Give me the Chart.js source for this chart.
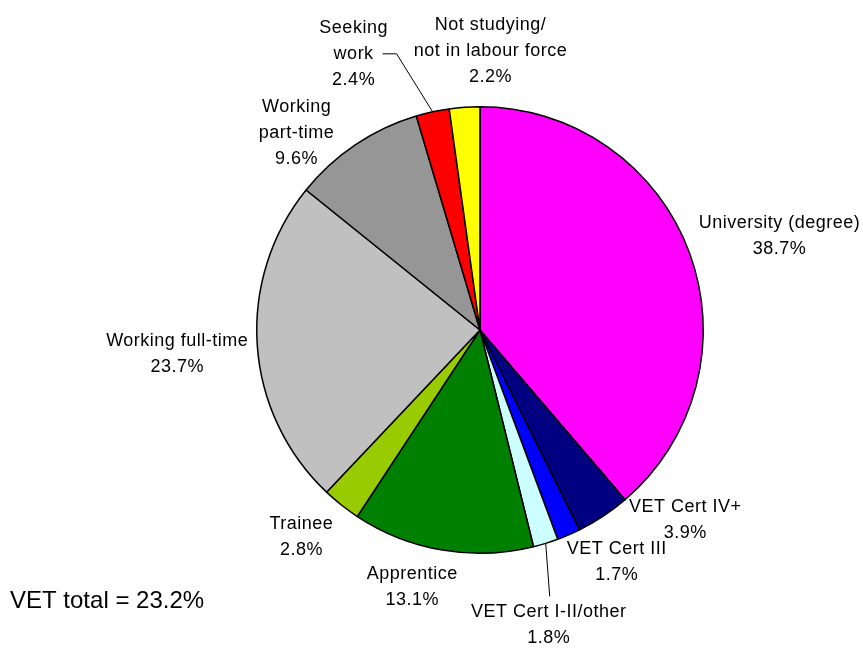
<!DOCTYPE html>
<html lang="en">
<head>
    <meta charset="UTF-8">
    <title>Destinations pie</title>
    <script src="https://cdn.jsdelivr.net/npm/chart.js"></script>
    <style>
        body { margin: 0; background: #fff; }
        #wrap { width: 863px; height: 651px; }
    </style>
</head>
<body>
    <div id="wrap">
        <canvas id="pieChart" width="863" height="651"></canvas>
    </div>

    <script>
        const categories = ['University (degree)', 'VET Cert IV+', 'VET Cert III', 'VET Cert I-II/other', 'Apprentice',
            'Trainee', 'Working full-time', 'Working part-time', 'Seeking work', 'Not studying/not in labour force'];
        const shares = [38.7, 3.9, 1.7, 1.8, 13.1, 2.8, 23.7, 9.6, 2.4, 2.2];
        const labelLines = [
            ['University (degree)'],
            ['VET Cert IV+'],
            ['VET Cert III'],
            ['VET Cert I-II/other'],
            ['Apprentice'],
            ['Trainee'],
            ['Working full-time'],
            ['Working', 'part-time'],
            ['Seeking', 'work'],
            ['Not studying/', 'not in labour force']
        ];
        const vetTotal = 23.2;

        const colors = ['#FF00FF', '#000080', '#0000FF', '#CCFFFF', '#008000',
            '#99CC00', '#C0C0C0', '#969696', '#FF0000', '#FFFF00'];

        // label offset from the middle of each slice's outer edge
        const labelOffsets = [
            [90, -17], [82, 4], [48, 27], [3, 82], [-30, 37],
            [-40, 32], [-80, 9], [-59, -12], [-79, -58], [26, -56]
        ];
        const leaders = { 3: true, 8: true };

        const labelPlugin = {
            id: 'sliceLabels',
            afterDraw(chart) {
                const ctx = chart.ctx;
                const arcs = chart.getDatasetMeta(0).data;
                ctx.save();
                ctx.fillStyle = '#000';
                ctx.strokeStyle = '#000';
                ctx.lineWidth = 1;
                ctx.font = '18px "Liberation Sans", Arial, sans-serif';
                ctx.letterSpacing = '0.5px';
                ctx.textAlign = 'center';
                ctx.textBaseline = 'middle';
                const lh = 26;
                arcs.forEach((arc, i) => {
                    const mid = (arc.startAngle + arc.endAngle) / 2;
                    const ex = arc.x + Math.cos(mid) * arc.outerRadius;
                    const ey = arc.y + Math.sin(mid) * arc.outerRadius;
                    const lx = ex + labelOffsets[i][0];
                    const ly = ey + labelOffsets[i][1];
                    const lines = labelLines[i].concat([shares[i].toFixed(1) + '%']);
                    const top = ly - (lines.length - 1) * lh / 2;
                    lines.forEach((t, k) => ctx.fillText(t, lx, top + k * lh));

                    if (leaders[i]) {
                        ctx.beginPath();
                        if (i === 3) {
                            ctx.moveTo(ex, ey);
                            ctx.lineTo(lx + 1, top - 16);
                        } else {
                            const w = ctx.measureText(lines[1]).width;
                            ctx.moveTo(ex, ey);
                            ctx.lineTo(lx + w / 2 + 23, top + lh);
                            ctx.lineTo(lx + w / 2 + 9, top + lh);
                        }
                        ctx.stroke();
                    }
                });

                ctx.textAlign = 'left';
                ctx.font = '24px "Liberation Sans", Arial, sans-serif';
                ctx.letterSpacing = '0px';
                ctx.fillText('VET total = ' + vetTotal.toFixed(1) + '%', 10, 601);
                ctx.restore();
            }
        };

        new Chart(document.getElementById('pieChart'), {
            type: 'pie',
            data: {
                labels: categories,
                datasets: [{
                    data: shares,
                    backgroundColor: colors,
                    borderColor: '#000',
                    borderWidth: 1.5
                }]
            },
            options: {
                responsive: false,
                animation: false,
                layout: { padding: { left: 256, right: 159, top: 106, bottom: 97 } },
                plugins: {
                    legend: { display: false },
                    tooltip: { enabled: false }
                }
            },
            plugins: [labelPlugin]
        });
    </script>
</body>
</html>
